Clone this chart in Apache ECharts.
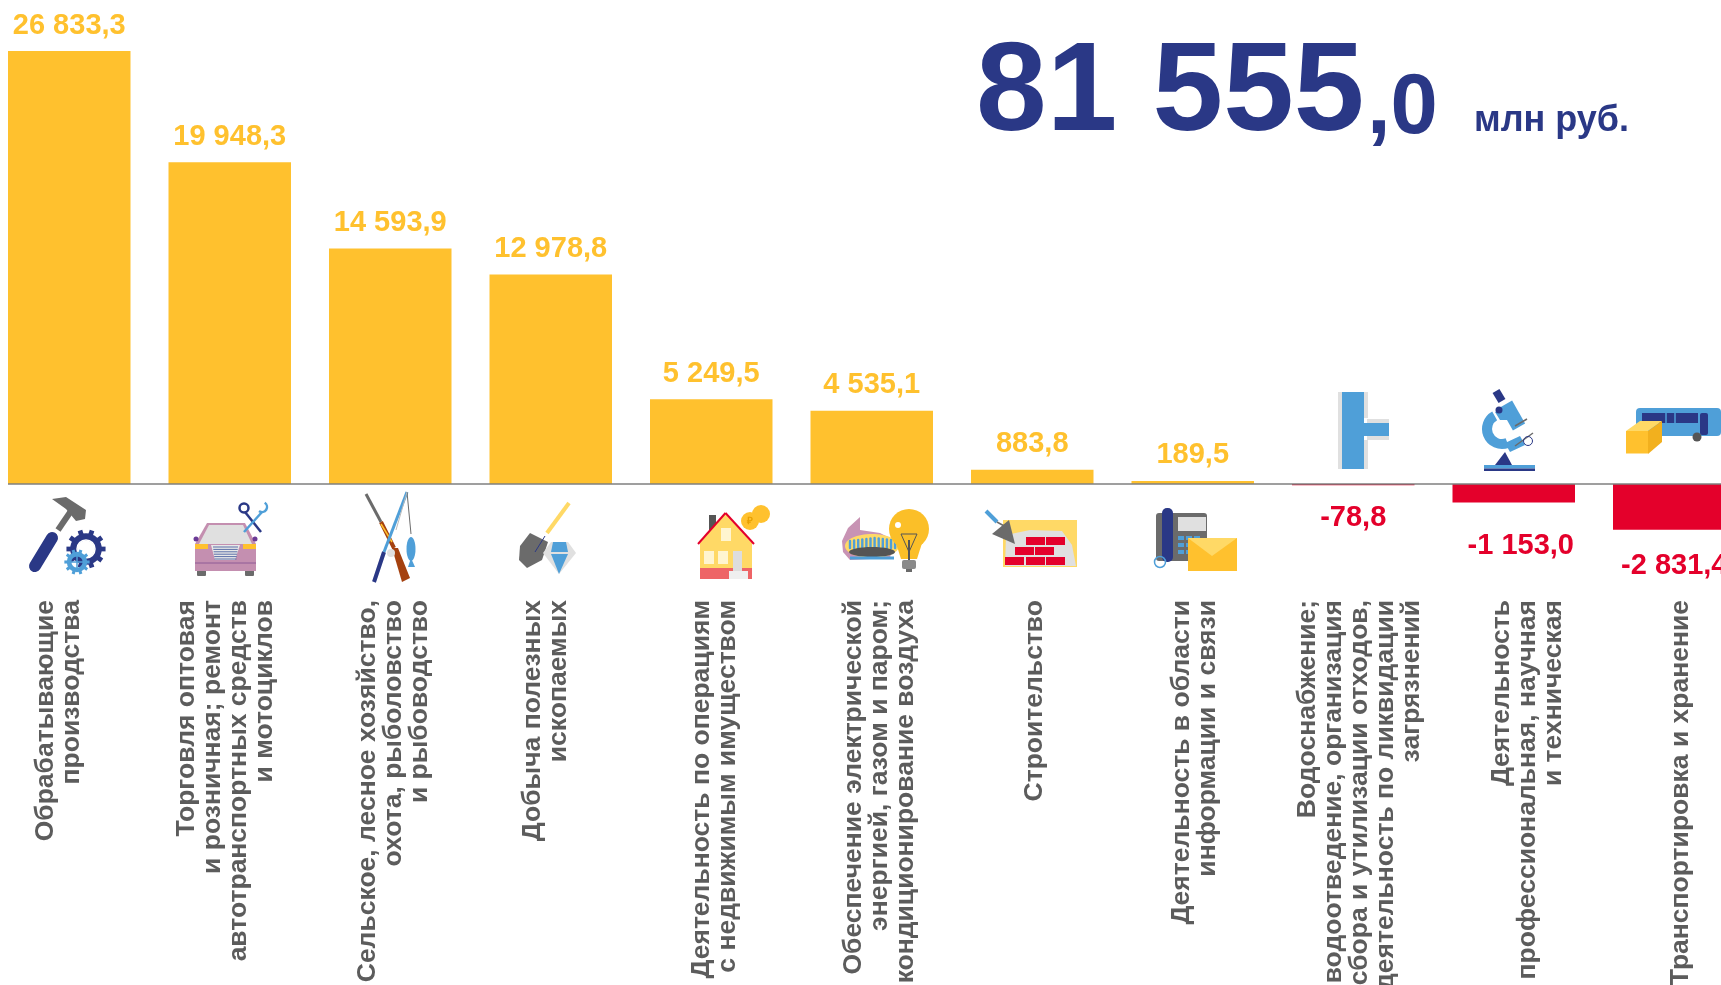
<!DOCTYPE html>
<html>
<head>
<meta charset="utf-8">
<script src="https://cdn.jsdelivr.net/npm/echarts@6/dist/echarts.min.js"></script>
<style>
html, body { margin: 0; padding: 0; background: #fff; }
#chart { width: 1721px; height: 985px; }
</style>
</head>
<body>
<div id="chart"></div>
<script>
const categories = [
  'Обрабатывающие\nпроизводства',
  'Торговля оптовая\nи розничная; ремонт\nавтотранспортных средств\nи мотоциклов',
  'Сельское, лесное хозяйство,\nохота, рыболовство\nи рыбоводство',
  'Добыча полезных\nископаемых',
  'Деятельность по операциям\nс недвижимым имуществом',
  'Обеспечение электрической\nэнергией, газом и паром;\nкондиционирование воздуха',
  'Строительство',
  'Деятельность в области\nинформации и связи',
  'Водоснабжение;\nводоотведение, организация\nсбора и утилизации отходов,\nдеятельность по ликвидации\nзагрязнений',
  'Деятельность\nпрофессиональная, научная\nи техническая',
  'Транспортировка и хранение'
]
const values = [26833.3, 19948.3, 14593.9, 12978.8, 5249.5, 4535.1, 883.8, 189.5, -78.8, -1153.0, -2831.4]
const totalWhole = '81 555'
const totalFraction = ',0'
const totalUnit = 'млн руб.'

const YELLOW = '#FFC12E'
const LIGHT = '#FFD966'
const RED = '#E4002B'
const NAVY = '#2A3886'
const BLUE = '#4F9FD8'
const GREY = '#6B6B6B'
const PALE = '#E0E0E0'
const TEXT = '#5C5C5C'
const FONT = '"Liberation Sans", Arial, sans-serif'

// сдвиг подписи категории относительно центра столбца, px
const labelShift = [-11, -4, 3, -5, 3, 8, 2, 2, 6, 14, 6]
// сдвиг подписи значения, px
const valueNudge = [[0, 0], [0, 0], [0, 0], [0, 0], [0, 0], [0, 0], [0, 0], [0, 0], [0, 7], [7, 18], [0, 11]]

function fmt(v) {
  const s = Math.abs(v).toFixed(1).split('.')
  const whole = s[0].replace(/\B(?=(\d{3})+$)/g, ' ')
  return (v < 0 ? '-' : '') + whole + ',' + s[1]
}

// подпись оси: сдвиг делается пустой строкой нужной высоты до или после текста
const axisRich = {
  t: { fontFamily: FONT, fontWeight: 'bold', fontSize: 26.5, lineHeight: 26, color: TEXT, align: 'right' }
}
labelShift.forEach((s, i) => {
  axisRich['g' + i] = { fontSize: 1, lineHeight: Math.abs(s) * 2, align: 'right' }
})
function axisLabelText(value, index) {
  const lines = value.split('\n').map(l => '{t|' + l + '}')
  const gap = '{g' + index + '| }'
  if (labelShift[index] < 0) lines.push(gap)
  else lines.unshift(gap)
  return lines.join('\n')
}

// --- примитивы для пиктограмм ---
const R = (x, y, width, height, fill, r) => ({ type: 'rect', silent: true, shape: { x, y, width, height, r: r || 0 }, style: { fill } })
const C = (cx, cy, r, fill) => ({ type: 'circle', silent: true, shape: { cx, cy, r }, style: { fill } })
const E = (cx, cy, rx, ry, fill) => ({ type: 'ellipse', silent: true, shape: { cx, cy, rx, ry }, style: { fill } })
const O = (cx, cy, r, stroke, lineWidth) => ({ type: 'circle', silent: true, shape: { cx, cy, r }, style: { fill: 'none', stroke, lineWidth } })
const P = (fill, points) => ({ type: 'polygon', silent: true, shape: { points }, style: { fill } })
const L = (x1, y1, x2, y2, stroke, lineWidth, cap) => ({ type: 'line', silent: true, shape: { x1, y1, x2, y2 }, style: { stroke, lineWidth, lineCap: cap || 'butt' } })
const A = (cx, cy, r, startAngle, endAngle, stroke, lineWidth) => ({ type: 'arc', silent: true, shape: { cx, cy, r, startAngle, endAngle }, style: { fill: 'none', stroke, lineWidth } })

function gear(cx, cy, r, color) {
  const out = []
  for (let i = 0; i < 10; i++) {
    const a = i * Math.PI / 5
    out.push(L(cx + Math.cos(a) * r * 0.7, cy + Math.sin(a) * r * 0.7, cx + Math.cos(a) * r * 1.15, cy + Math.sin(a) * r * 1.15, color, r * 0.28))
  }
  out.push(O(cx, cy, r * 0.72, color, r * 0.42))
  return out
}

function hammerIcon() {
  return [
    L(58, 530, 73, 508, GREY, 6),
    P(GREY, [[52, 499], [66, 497], [86, 510], [85, 519], [76, 521], [66, 509]]),
    L(52, 538, 35, 566, NAVY, 12, 'round'),
    ...gear(86, 549, 17, NAVY),
    O(86, 549, 9, '#fff', 1.5),
    ...gear(77, 562, 11, BLUE),
    L(68, 562, 86, 562, BLUE, 1.5),
    L(77, 553, 77, 571, BLUE, 1.5)
  ]
}

function carIcon() {
  const grill = []
  for (let i = 0; i < 6; i++) grill.push(L(213 + i * 0.3, 547 + i * 2.4, 238 - i * 0.3, 547 + i * 2.4, '#5B6FA8', 1))
  return [
    R(197, 570, 9, 6, GREY, 1),
    R(245, 570, 9, 6, GREY, 1),
    P('#C48FB0', [[207, 523], [245, 523], [256, 544], [256, 571], [195, 571], [195, 544]]),
    P(PALE, [[209, 525], [243, 525], [252, 544], [199, 544]]),
    C(196, 539, 2.5, '#6B3A96'),
    C(255, 539, 2.5, '#6B3A96'),
    R(195, 544, 13, 5, YELLOW),
    R(243, 544, 13, 5, YELLOW),
    P('#E8E8E8', [[211, 545], [240, 545], [235, 560], [215, 560]]),
    ...grill,
    L(195, 563, 256, 563, '#8E5A96', 1),
    L(245, 512, 261, 532, NAVY, 2.5),
    O(244, 508, 4.5, NAVY, 2.5),
    L(262, 512, 244, 532, BLUE, 2.5),
    A(262, 507, 5, -1, 2.2, BLUE, 2.5)
  ]
}

function huntIcon() {
  return [
    L(366, 494, 381, 522, GREY, 3),
    L(381, 522, 394, 548, '#A5410F', 4),
    L(381, 524, 392, 542, YELLOW, 1.5),
    P('#A5410F', [[392, 548], [398, 548], [410, 578], [402, 582]]),
    L(407, 492, 384, 552, BLUE, 3),
    L(384, 552, 374, 582, NAVY, 4),
    L(407, 492, 411, 534, GREY, 1),
    L(407, 492, 396, 530, '#BBBBBB', 1),
    C(391, 553, 4, PALE),
    E(411, 549, 4.5, 12, BLUE),
    P(BLUE, [[411, 558], [415, 567], [408, 567]])
  ]
}

function shovelIcon() {
  return [
    L(569, 503, 547, 533, LIGHT, 4),
    P(GREY, [[530, 533], [548, 542], [542, 560], [527, 568], [519, 560], [520, 546]]),
    L(545, 536, 535, 552, NAVY, 1),
    P(PALE, [[551, 542], [568, 542], [576, 553], [559, 574], [543, 553]]),
    P(BLUE, [[553, 542], [566, 542], [568, 552], [551, 552]]),
    P(BLUE, [[551, 554], [568, 554], [559, 574]])
  ]
}

function houseIcon() {
  return [
    R(709, 515, 7, 16, '#555555'),
    P(LIGHT, [[725, 513], [752, 543], [752, 568], [700, 568], [700, 543]]),
    R(700, 568, 52, 11, '#EE6466'),
    L(698, 544, 725.5, 513, RED, 2),
    L(725.5, 513, 754, 544, RED, 2),
    R(721, 528, 10, 13, '#FFF5D0'),
    R(704, 551, 10, 13, '#FFF5D0'),
    R(718, 551, 10, 13, '#FFF5D0'),
    R(733, 551, 9, 20, '#DDDDDD'),
    R(729, 571, 19, 8, '#EFEFEF'),
    C(761, 514, 9, YELLOW),
    C(750, 521, 9, YELLOW),
    { type: 'text', silent: true, style: { x: 750, y: 521, text: '₽', fill: '#E8A000', font: 'bold 10px ' + FONT, align: 'center', verticalAlign: 'middle' } }
  ]
}

function energyIcon() {
  const flames = []
  for (let i = 0; i < 13; i++) {
    const x = 850 + i * 4.1
    flames.push(L(x, 548, x, 538 + Math.abs(i - 6) * 0.5, BLUE, 2.4, 'round'))
  }
  return [
    P('#C893B4', [[842, 541], [848, 528], [860, 517], [860, 530], [880, 533], [894, 540], [890, 558], [850, 560], [843, 552]]),
    E(872, 546, 27, 12, LIGHT),
    ...flames,
    E(872, 552, 23, 5, '#555555'),
    L(850, 558, 894, 558, BLUE, 3),
    C(909, 529, 20, '#FBBF28'),
    P('#FBBF28', [[895, 540], [923, 540], [917, 559], [901, 559]]),
    C(898, 525, 3, '#fff'),
    L(901, 534, 917, 534, '#555555', 1),
    L(901, 534, 909, 552, '#555555', 1),
    L(917, 534, 909, 552, '#555555', 1),
    L(909, 540, 909, 560, '#555555', 2),
    R(902, 560, 14, 9, '#8A8A8A', 2),
    R(906, 569, 6, 3, '#6A6A6A')
  ]
}

function brickIcon() {
  const bricks = [
    [1026, 537], [1046, 537],
    [1015, 547], [1035, 547],
    [1005, 557], [1026, 557], [1046, 557]
  ]
  return [
    R(1003, 520, 74, 47, LIGHT),
    P(PALE, [[1005, 566], [1006, 535], [1030, 530], [1062, 531], [1072, 545], [1076, 566]]),
    ...bricks.map(b => R(b[0], b[1], 19, 8, RED)),
    L(986, 511, 997, 522, BLUE, 4),
    L(997, 522, 1006, 527, GREY, 1.5),
    P(GREY, [[1009, 520], [992, 534], [1015, 544]])
  ]
}

function phoneIcon() {
  const keys = []
  for (let i = 0; i < 3; i++) {
    for (let j = 0; j < 3; j++) keys.push(R(1178 + i * 8, 536 + j * 7, 6, 4, BLUE))
  }
  return [
    R(1156, 513, 51, 48, GREY, 3),
    R(1178, 517, 28, 14, PALE),
    ...keys,
    R(1162, 508, 11, 54, NAVY, 5),
    O(1160, 562, 5.5, BLUE, 1.5),
    R(1188, 538, 49, 33, YELLOW),
    P(LIGHT, [[1188, 538], [1237, 538], [1212, 556]])
  ]
}

function pipeIcon() {
  return [
    R(1338, 392, 4, 77, PALE),
    R(1364, 392, 4, 26, PALE),
    R(1364, 440, 4, 29, PALE),
    R(1367, 419, 22, 4, PALE),
    R(1367, 436, 22, 4, PALE),
    R(1342, 392, 22, 77, BLUE),
    R(1360, 423, 29, 13, BLUE)
  ]
}

function scopeIcon() {
  return [
    L(1496, 391, 1502, 401, NAVY, 8),
    L(1506, 404, 1519, 427, BLUE, 14),
    A(1502, 429, 15, 1.2, 4.2, BLUE, 10),
    P(BLUE, [[1495, 412], [1508, 408], [1514, 420], [1500, 420]]),
    P(BLUE, [[1505, 443], [1520, 436], [1525, 445], [1510, 452]]),
    C(1499, 410, 3.5, NAVY),
    L(1515, 426, 1527, 419, GREY, 1.5),
    L(1515, 446, 1533, 433, GREY, 1.5),
    O(1528, 441, 4.5, NAVY, 1),
    P(NAVY, [[1495, 465], [1505, 452], [1512, 465]]),
    R(1484, 465, 51, 3.5, BLUE),
    R(1484, 468.5, 51, 2.5, NAVY)
  ]
}

function busIcon() {
  return [
    R(1636, 408, 85, 28, BLUE, 4),
    R(1642, 413, 56, 10, NAVY),
    L(1666, 413, 1666, 423, BLUE, 1.5),
    L(1675, 413, 1675, 423, BLUE, 1.5),
    R(1700, 413, 8, 22, NAVY, 2),
    C(1697, 437, 4.5, '#555555'),
    P(LIGHT, [[1626, 431], [1640, 421], [1662, 421], [1648, 431]]),
    R(1626, 431, 22, 22.5, YELLOW),
    P('#F2B01E', [[1648, 431], [1662, 421], [1662, 442], [1648, 454]])
  ]
}

const icons = [
  hammerIcon, carIcon, huntIcon, shovelIcon, houseIcon, energyIcon,
  brickIcon, phoneIcon, pipeIcon, scopeIcon, busIcon
]

const chart = echarts.init(document.getElementById('chart'))
chart.setOption({
  animation: false,
  backgroundColor: '#fff',
  textStyle: { fontFamily: FONT },
  grid: {
    left: -11,
    width: 1765.5,
    top: 0,
    height: 590,
    outerBoundsMode: 'none'
  },
  xAxis: {
    type: 'category',
    data: categories,
    axisLine: { show: false, onZero: false },
    axisTick: { show: false },
    axisLabel: {
      interval: 0,
      rotate: 90,
      margin: 10,
      fontFamily: FONT,
      fontWeight: 'bold',
      fontSize: 26.5,
      lineHeight: 26,
      color: TEXT,
      align: 'right',
      formatter: axisLabelText,
      rich: axisRich
    }
  },
  yAxis: {
    type: 'value',
    min: -6570,
    max: 30000,
    show: false,
    splitLine: { show: false }
  },
  series: [{
    type: 'bar',
    barWidth: 122.5,
    data: values.map((v, i) => ({
      value: v,
      itemStyle: { color: v < 0 ? RED : YELLOW },
      label: { position: v < 0 ? 'bottom' : 'top', color: v < 0 ? RED : YELLOW, offset: valueNudge[i] }
    })),
    label: {
      show: true,
      distance: 11,
      fontFamily: FONT,
      fontWeight: 'bold',
      fontSize: 29,
      formatter: p => fmt(p.value)
    },
    markLine: {
      silent: true,
      symbol: 'none',
      label: { show: false },
      lineStyle: { color: '#7F7F7F', width: 1.5, type: 'solid' },
      data: [[{ x: 8, yAxis: 0 }, { x: 1721, yAxis: 0 }]]
    }
  }],
  graphic: [
    { type: 'text', silent: true, style: { x: 976, y: 158, text: totalWhole, fill: NAVY, font: 'bold 127px ' + FONT, verticalAlign: 'bottom' } },
    { type: 'text', silent: true, style: { x: 1367, y: 152, text: totalFraction, fill: NAVY, font: 'bold 85px ' + FONT, verticalAlign: 'bottom' } },
    { type: 'text', silent: true, style: { x: 1474, y: 139, text: totalUnit, fill: NAVY, font: 'bold 36px ' + FONT, verticalAlign: 'bottom' } },
    ...icons.flatMap(fn => fn())
  ]
})
</script>
</body>
</html>
